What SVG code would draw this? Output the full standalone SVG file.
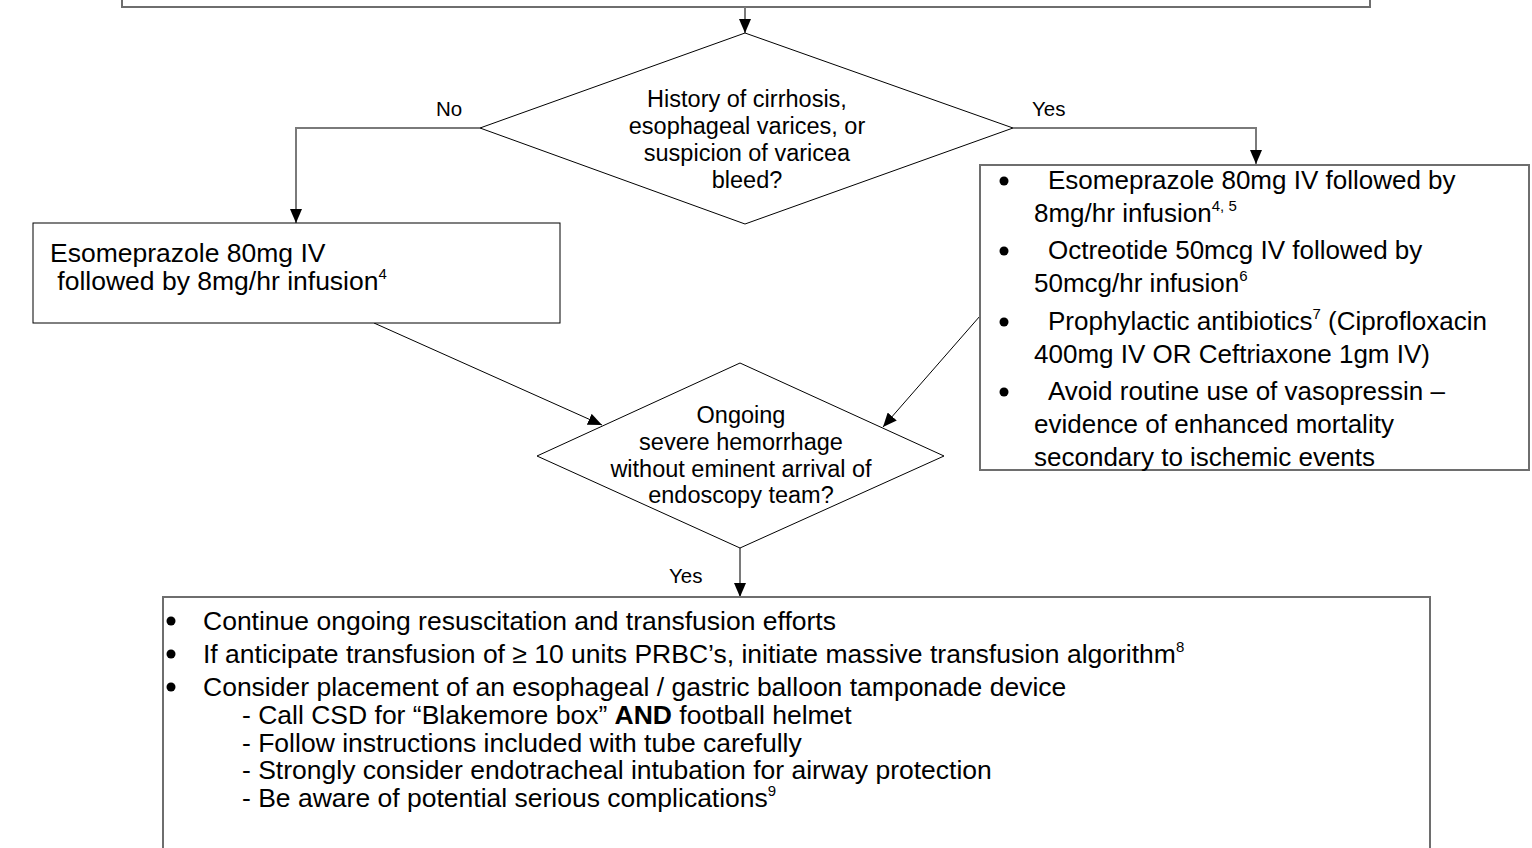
<svg xmlns="http://www.w3.org/2000/svg" width="1532" height="848" viewBox="0 0 1532 848">
<style>
text{font-family:"Liberation Sans",Arial,Helvetica,sans-serif;fill:#000}
.box{fill:#fff;stroke:#6e6e6e;stroke-width:2}
.thin{fill:#fff;stroke:#000;stroke-width:1}
.dia{fill:#fff;stroke:#000;stroke-width:1}
.cg{fill:none;stroke:#7a7a7a;stroke-width:2}
.cb{fill:none;stroke:#000;stroke-width:1}
.dt{font-size:23.5px;text-anchor:middle}
.lb{font-size:20.5px}
.rt{font-size:26px}
.bt{font-size:26.5px}
.sup{font-size:15px}
</style>
<defs>
<marker id="ah" viewBox="0 0 14 12" refX="14" refY="6" markerWidth="14" markerHeight="12" markerUnits="userSpaceOnUse" orient="auto">
<path d="M0,0 L14,6 L0,12 Z" fill="#000"/>
</marker>
</defs>

<g id="top-box">
<rect class="box" x="122" y="-20" width="1248" height="27"/>
</g>

<g id="connectors">
<path class="cg" d="M745,7 V33" marker-end="url(#ah)"/>
<path class="cg" d="M480,128 H296 V223" marker-end="url(#ah)"/>
<path class="cg" d="M1013,128 H1256 V164" marker-end="url(#ah)"/>
<path class="cb" d="M374,323 L602,425" marker-end="url(#ah)"/>
<path class="cb" d="M980,316 L883,427" marker-end="url(#ah)"/>
<path class="cg" d="M740,548 V597" marker-end="url(#ah)"/>
<text class="lb" x="436" y="116">No</text>
<text class="lb" x="1032" y="116">Yes</text>
<text class="lb" x="669" y="583">Yes</text>
</g>

<g id="decision-varices">
<polygon class="dia" points="745,33 1013,128 745,224 480,128"/>
<text class="dt" x="747" y="107">History of cirrhosis,</text>
<text class="dt" x="747" y="134">esophageal varices, or</text>
<text class="dt" x="747" y="161">suspicion of varicea</text>
<text class="dt" x="747" y="188">bleed?</text>
</g>

<g id="box-no-varices">
<rect class="thin" x="33" y="223" width="527" height="100"/>
<text class="bt" x="50" y="262">Esomeprazole 80mg IV</text>
<text class="bt" x="50" y="290" xml:space="preserve"> followed by 8mg/hr infusion<tspan class="sup" dy="-11">4</tspan></text>
</g>

<g id="box-varices">
<rect class="box" x="980" y="165" width="549" height="305"/>
<circle cx="1004" cy="181" r="4.5"/>
<circle cx="1004" cy="251" r="4.5"/>
<circle cx="1004" cy="322" r="4.5"/>
<circle cx="1004" cy="392" r="4.5"/>
<text class="rt" x="1048" y="189">Esomeprazole 80mg IV followed by</text>
<text class="rt" x="1034" y="222">8mg/hr infusion<tspan class="sup" dy="-11">4, 5</tspan></text>
<text class="rt" x="1048" y="259">Octreotide 50mcg IV followed by</text>
<text class="rt" x="1034" y="292">50mcg/hr infusion<tspan class="sup" dy="-11">6</tspan></text>
<text class="rt" x="1048" y="330">Prophylactic antibiotics<tspan class="sup" dy="-11">7</tspan><tspan dy="11"> (Ciprofloxacin</tspan></text>
<text class="rt" x="1034" y="363">400mg IV OR Ceftriaxone 1gm IV)</text>
<text class="rt" x="1048" y="400">Avoid routine use of vasopressin –</text>
<text class="rt" x="1034" y="433">evidence of enhanced mortality</text>
<text class="rt" x="1034" y="466">secondary to ischemic events</text>
</g>

<g id="decision-hemorrhage">
<polygon class="dia" points="740,363 944,456 740,548 537,456"/>
<text class="dt" x="741" y="423">Ongoing</text>
<text class="dt" x="741" y="450">severe hemorrhage</text>
<text class="dt" x="741" y="477">without eminent arrival of</text>
<text class="dt" x="741" y="503">endoscopy team?</text>
</g>

<g id="box-management">
<rect class="box" x="163" y="597" width="1267" height="280"/>
<circle cx="171" cy="621" r="4.5"/>
<circle cx="171" cy="654" r="4.5"/>
<circle cx="171" cy="687" r="4.5"/>
<text class="bt" x="203" y="630">Continue ongoing resuscitation and transfusion efforts</text>
<text class="bt" x="203" y="663">If anticipate transfusion of ≥ 10 units PRBC’s, initiate massive transfusion algorithm<tspan class="sup" dy="-11">8</tspan></text>
<text class="bt" x="203" y="696">Consider placement of an esophageal / gastric balloon tamponade device</text>
<text class="bt" x="242" y="724">- Call CSD for “Blakemore box” <tspan font-weight="bold">AND</tspan> football helmet</text>
<text class="bt" x="242" y="752">- Follow instructions included with tube carefully</text>
<text class="bt" x="242" y="779">- Strongly consider endotracheal intubation for airway protection</text>
<text class="bt" x="242" y="807">- Be aware of potential serious complications<tspan class="sup" dy="-11">9</tspan></text>
</g>
</svg>
